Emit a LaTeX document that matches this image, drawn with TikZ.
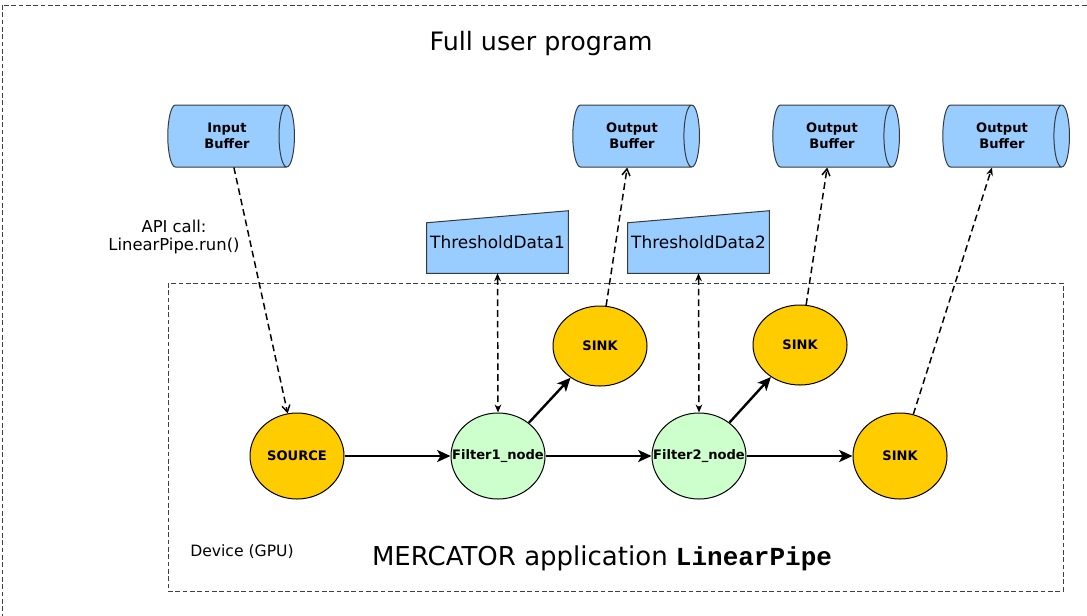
\documentclass[tikz,border=0pt]{standalone}
\usepackage{fontspec}
\setmainfont{DejaVu Sans}
\setmonofont{Liberation Mono}
\usetikzlibrary{positioning,shapes.geometric,arrows.meta,backgrounds}
\usepackage{xcolor}
\definecolor{bufblue}{HTML}{99CCFF}
\definecolor{srcyellow}{HTML}{FFCC00}
\definecolor{filtgreen}{HTML}{CCFFCC}
\definecolor{edgegrey}{HTML}{36393D}

\begin{document}
\begin{tikzpicture}[
      x=0.75pt, y=-0.75pt,
      node distance=79.5pt, % gap between the pipeline ellipses
      buffer/.style={cylinder, draw=edgegrey, fill=bufblue, line width=0.75pt, aspect=0.6, minimum height=95pt, minimum width=46.5pt, align=center, inner sep=0pt, font=\bfseries\fontsize{9.8}{12}\selectfont},
      thrbox/.style={minimum width=105.75pt, minimum height=46.5pt, inner sep=0pt, font=\fontsize{12.7}{15}\selectfont},
      stage/.style={ellipse, draw, line width=0.75pt, minimum width=70.5pt, minimum height=64.5pt, inner sep=0pt},
      sinknode/.style={stage, fill=srcyellow, minimum height=60pt},
      stagelbl/.style={font=\bfseries\fontsize{9.8}{12}\selectfont},
      boxline/.style={draw=black!75, line width=0.6pt, dash pattern=on 3.5pt off 2pt},
      flow/.style={line width=1.8pt, -{Stealth[length=10pt, width=9pt, inset=2.5pt]}},
      dataflow/.style={line width=1.1pt, dash pattern=on 5pt off 3pt}
  ]
      \useasboundingbox (0,0) rectangle (1087,615);

      % Containers
      \draw[boxline] (2,5) rectangle (1100,630);
      \draw[boxline] (168,283) rectangle (1063,591);
      \node[font=\fontsize{19}{23}\selectfont] (title) at (541,44) {Full user program};
      \node[font=\fontsize{11.7}{14}\selectfont] (device) at (242,552) {Device (GPU)};
      \node[font=\fontsize{19.5}{23}\selectfont] (appname) at (602,558) {MERCATOR application \textbf{\texttt{LinearPipe}}};

      % Buffers
      \node (inbuf) [buffer] at (227,136) {Input\\Buffer};
      \node (outbufa) [buffer] at (632,136) {Output\\Buffer};
      \node (outbufb) [buffer] at (832,136) {Output\\Buffer};
      \node (outbufc) [buffer] at (1002,136) {Output\\Buffer};

      % Threshold data (slanted top)
      \node (thra) [thrbox] at (497.5,242) {ThresholdData1};
      \node (thrb) [thrbox] at (698.5,242) {ThresholdData2};
      \begin{scope}[on background layer]
        \foreach \t in {thra,thrb}
          \draw[draw=edgegrey, fill=bufblue, line width=0.75pt] (\t.south west) -- ([yshift=-9pt]\t.north west) -- (\t.north east) -- (\t.south east) -- cycle;
      \end{scope}

      % Pipeline nodes
      \node (source) [stage, fill=srcyellow, label={[stagelbl]center:SOURCE}] at (297,456) {};
      \node (filtera) [stage, fill=filtgreen, right=of source, label={[stagelbl]center:Filter1\_node}] {};
      \node (filterb) [stage, fill=filtgreen, right=of filtera, label={[stagelbl]center:Filter2\_node}] {};
      \node (sinkc) [sinknode, minimum height=64.5pt, right=of filterb, label={[stagelbl]center:SINK}] {};
      \node (sinka) [sinknode, label={[stagelbl]center:SINK}] at (600,346) {};
      \node (sinkb) [sinknode, label={[stagelbl]center:SINK}] at (800,345) {};

      % Solid flow
      \draw[flow] (source) -- (filtera);
      \draw[flow] (filtera) -- (filterb);
      \draw[flow] (filterb) -- (sinkc);
      \draw[flow] (filtera) -- (sinka);
      \draw[flow] (filterb) -- (sinkb);

      % Dashed data transfers
      \draw[dataflow, -{Straight Barb[length=5pt, width=6pt]}] (inbuf) -- (source);
      \node[align=center, font=\fontsize{12.3}{14}\selectfont] (apicall) at (174,237) {API call:\\LinearPipe.run()};
      \draw[dataflow, {Stealth[length=6pt, width=5pt]}-{Stealth[length=6pt, width=5pt]}] (thra.south) -- (filtera.north);
      \draw[dataflow, {Stealth[length=6pt, width=5pt]}-{Stealth[length=6pt, width=5pt]}] (thrb.south) -- (filterb.north);
      \draw[dataflow, -{Straight Barb[length=5pt, width=6pt]}] (sinka) -- (outbufa);
      \draw[dataflow, -{Straight Barb[length=5pt, width=6pt]}] (sinkb) -- (outbufb);
      \draw[dataflow, -{Stealth[length=6pt, width=5pt]}] (sinkc) -- (outbufc);
  \end{tikzpicture}
\end{document}
